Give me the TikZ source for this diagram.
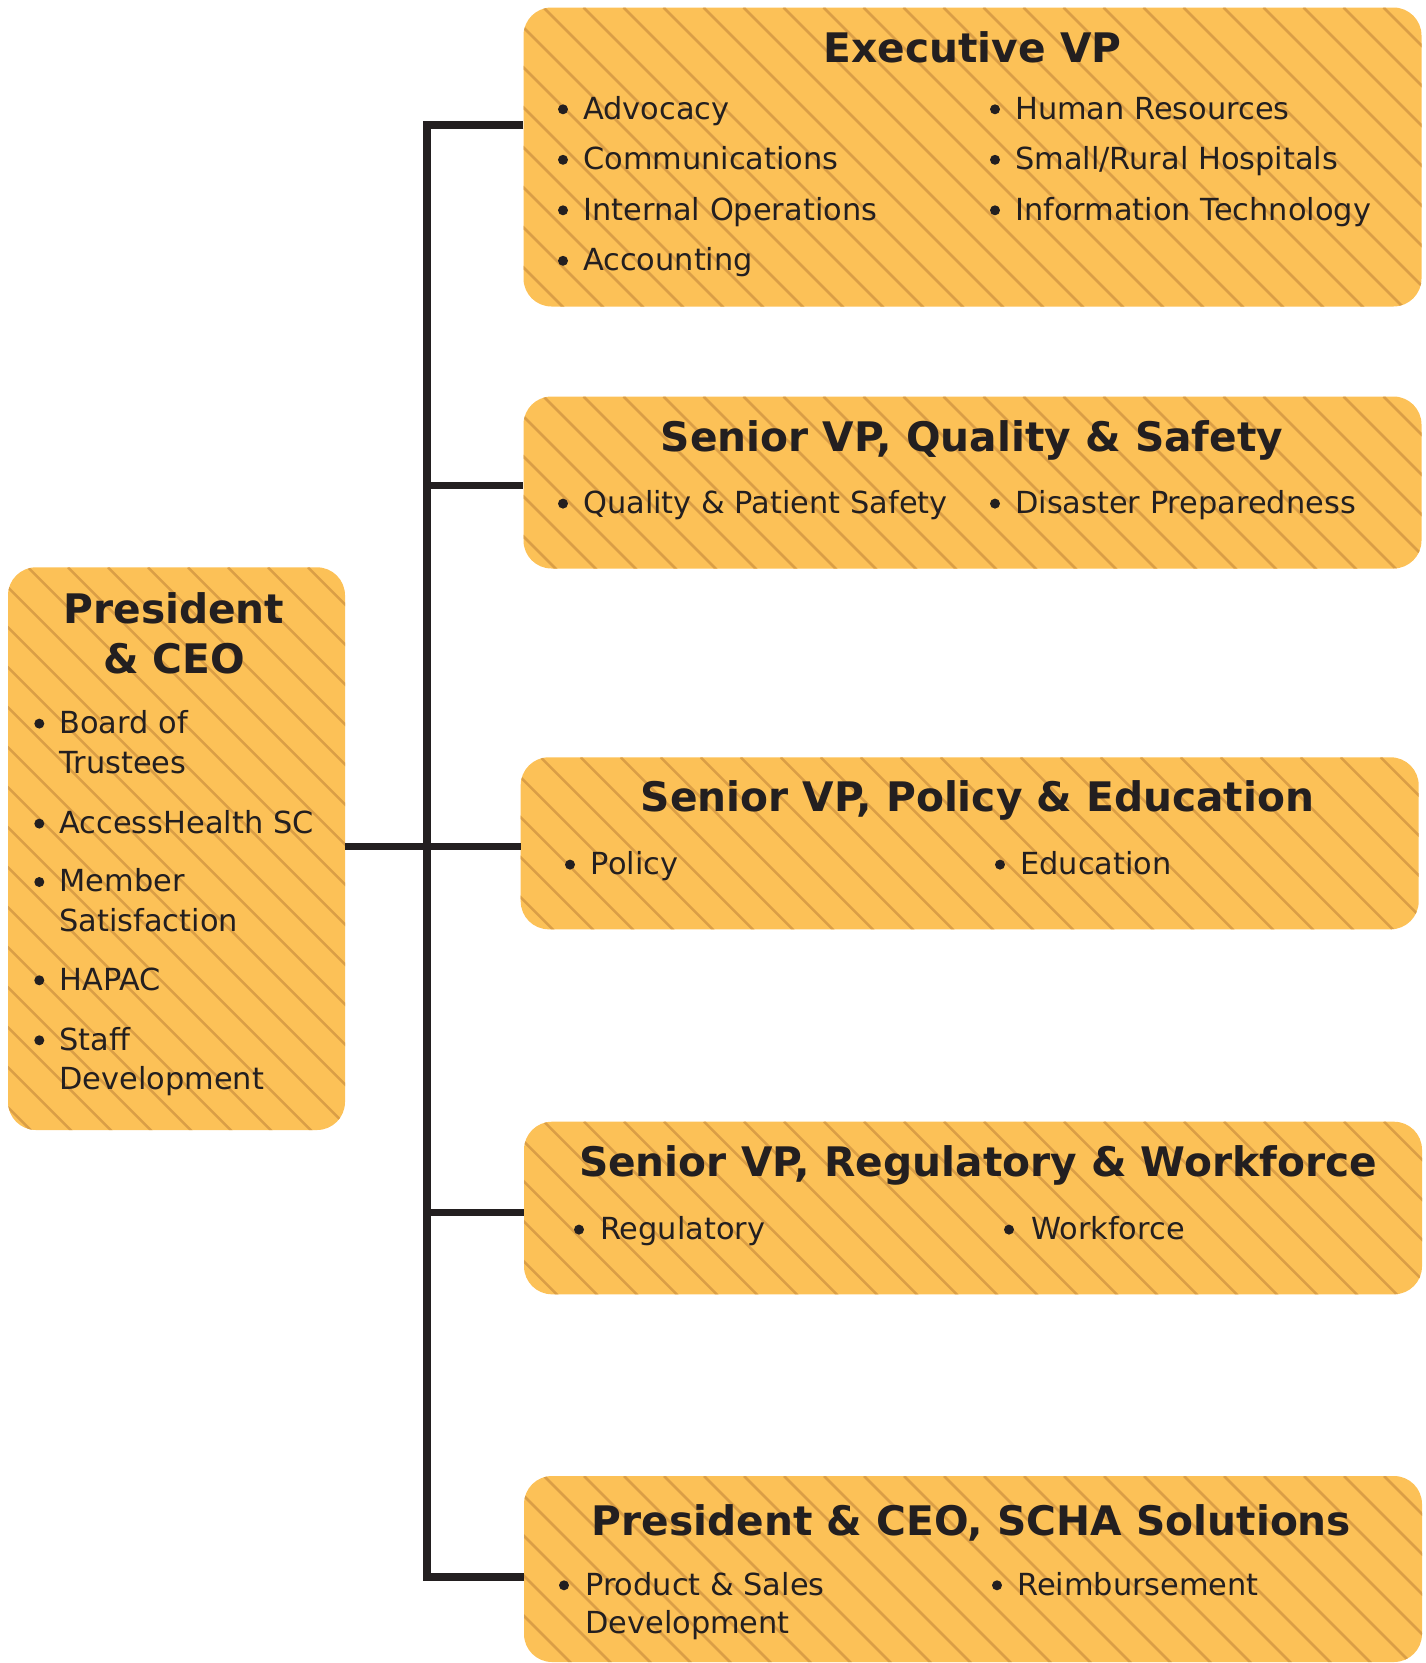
\documentclass[tikz,border=0pt]{standalone}
\usepackage{fontspec}
\setmainfont{DejaVu Sans}
\definecolor{boxfill}{RGB}{252,193,87}
\definecolor{hatchcol}{RGB}{218,158,70}
\definecolor{ink}{RGB}{35,31,32}
\newcommand{\ttlfont}{\fontsize{40.7}{48}\selectfont\bfseries}
\newcommand{\bdyfont}{\fontsize{30.4}{40}\selectfont}
\newcommand{\bitem}[5]{%
  \node[dotmark] (#1d) at (#2,#4-9.7) {};
  \node[itemtext] (#1) at (#3,#4) {#5};}
\tikzset{
  hatchline/.style={draw=hatchcol, line width=2.5pt},
  orgbox/.style={fill=boxfill, draw=none, rounded corners=28pt, inner sep=0pt,
    path picture={
      \foreach \i in {-16,...,24}
        \draw[hatchline] ([xshift=\i*40pt+20pt]path picture bounding box.north west) -- ++(1000pt,-1000pt);
    }},
  conn/.style={draw=ink, line width=7.3pt, line join=miter, line cap=butt},
  ttl/.style={anchor=base, inner sep=0pt, font=\ttlfont, text=ink},
  itemtext/.style={anchor=base west, inner sep=0pt, font=\bdyfont, text=ink},
  dotmark/.style={circle, fill=ink, draw=none, inner sep=0pt, minimum size=10pt},
}
\begin{document}
\begin{tikzpicture}[x=1pt, y=-1pt]
\useasboundingbox (0,0) rectangle (1425,1663);

% junction coordinates
\coordinate (j1) at (427,125);
\coordinate (j2) at (427,485.6);
\coordinate (j3) at (427,846.7);
\coordinate (j4) at (427,1212.3);
\coordinate (j6) at (427,1577);

% boxes
\node[orgbox, minimum width=898pt, minimum height=299pt] (exec) at (972.5,157) {};
\node[orgbox, minimum width=898pt, minimum height=172pt] (qual) at (972.5,482.5) {};
\node[orgbox, minimum width=898pt, minimum height=172pt] (pol) at (969.7,843.3) {};
\node[orgbox, minimum width=898pt, minimum height=172.6pt] (reg) at (973,1208) {};
\node[orgbox, minimum width=898pt, minimum height=186pt] (scha) at (973,1569) {};
\node[orgbox, minimum width=337pt, minimum height=562.7pt] (ceo) at (176.5,848.65) {};

% connectors
\draw[conn] (exec.west |- j1) -- (j1) -- (j6) -- (scha.west |- j6);
\draw[conn] (j2) -- (qual.west |- j2);
\draw[conn] (ceo.east |- j3) -- (pol.west |- j3);
\draw[conn] (j4) -- (reg.west |- j4);

% Executive VP
\node[ttl] (execT) at (972.5,62.7) {Executive VP};
\bitem{e1}{563}{583}{119}{Advocacy}
\bitem{e2}{563}{583}{169.5}{Communications}
\bitem{e3}{563}{583}{220}{Internal Operations}
\bitem{e4}{563}{583}{270.5}{Accounting}
\bitem{e5}{995}{1015}{119}{Human Resources}
\bitem{e6}{995}{1015}{169.5}{Small/Rural Hospitals}
\bitem{e7}{995}{1015}{220}{Information Technology}

% Quality & Safety
\node[ttl] (qualT) at (972,451.7) {Senior VP, Quality \& Safety};
\bitem{q1}{563}{583}{513.3}{Quality \& Patient Safety}
\bitem{q2}{995}{1015}{513.3}{Disaster Preparedness}

% Policy & Education
\node[ttl] (polT) at (977.5,811.7) {Senior VP, Policy \& Education};
\bitem{p1}{570}{590.7}{874.3}{Policy}
\bitem{p2}{1000}{1020}{874.3}{Education}

% Regulatory & Workforce
\node[ttl] (regT) at (978,1176.7) {Senior VP, Regulatory \& Workforce};
\bitem{r1}{579}{600}{1239.3}{Regulatory}
\bitem{r2}{1009}{1031}{1239.3}{Workforce}

% SCHA Solutions
\node[ttl] (schaT) at (971.5,1535) {President \& CEO, SCHA Solutions};
\bitem{s1}{564}{585}{1595}{Product \& Sales}
\node[itemtext] (s1b) at (585,1633) {Development};
\bitem{s2}{997}{1017}{1595}{Reimbursement}

% President & CEO
\node[ttl] (ceoT1) at (174,623.5) {President};
\node[ttl] (ceoT2) at (174,673.5) {\& CEO};
\bitem{c1}{39.3}{59.3}{733.3}{Board of}
\node[itemtext] (c1b) at (59.3,773.3) {Trustees};
\bitem{c2}{39.3}{59.3}{833.3}{AccessHealth SC}
\bitem{c3}{39.3}{59.3}{891.7}{Member}
\node[itemtext] (c3b) at (59.3,931.7) {Satisfaction};
\bitem{c4}{39.3}{59.3}{990}{HAPAC}
\bitem{c5}{39.3}{59.3}{1050}{Staff}
\node[itemtext] (c5b) at (59.3,1089.5) {Development};
\end{tikzpicture}
\end{document}
